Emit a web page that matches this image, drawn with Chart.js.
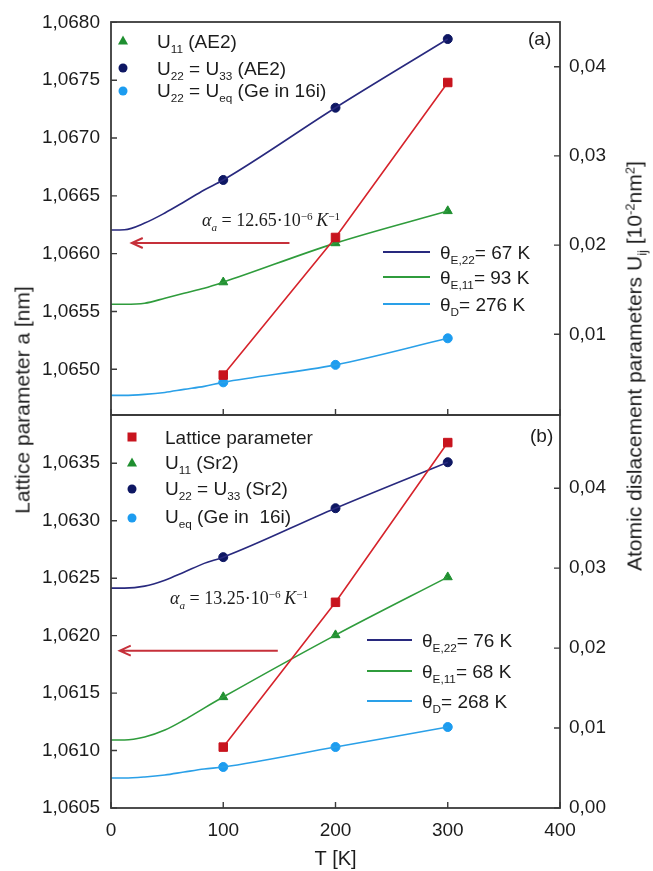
<!DOCTYPE html>
<html>
<head>
<meta charset="utf-8">
<script src="https://cdn.jsdelivr.net/npm/chart.js"></script>
<style>
html,body{margin:0;padding:0;background:#fff;}
#wrap{position:relative;width:653px;height:871px;overflow:hidden;background:#fff;font-family:"Liberation Sans",Arial,sans-serif;color:#1c1c1c;}
canvas{position:absolute;left:0;}
#ca{top:0;}
#cb{top:395px;}
.t{position:absolute;white-space:nowrap;line-height:1;font-size:19px;transform:translateY(-50%);}
.t sub,.t sup,.ytitle sub,.ytitle sup{font-size:0.62em;position:relative;vertical-align:baseline;line-height:0;}
.t sub,.ytitle sub{top:0.42em;}
.t sup,.ytitle sup{top:-0.55em;}
.mk{position:absolute;transform:translate(-50%,-50%);}
.circ{width:9px;height:9px;border-radius:50%;}
.sq{width:9px;height:9px;}
.tri{width:0;height:0;border-left:5px solid transparent;border-right:5px solid transparent;border-bottom:9px solid #1f8f30;}
.ln{position:absolute;height:2px;transform:translateY(-50%);}
.ytitle{position:absolute;white-space:nowrap;font-size:21px;line-height:1;transform:translate(-50%,-50%) rotate(-90deg);}
.eq{font-family:"Liberation Serif","Times New Roman",serif;font-size:18px;}
</style>
</head>
<body>
<div id="wrap">
  <canvas id="ca" width="653" height="425"></canvas>
  <canvas id="cb" width="653" height="476"></canvas>
</div>
<script>
// ---------- data ----------
const T_PTS = [100, 200, 300];
const T_FIT = [0, 12, 30, 48, 65, 83, 100, 200, 300];
const X_TICKS = [0, 100, 200, 300, 400];

// panel (a)
const latticeA = [1.06495, 1.06614, 1.06748];
const u11A = [0.01584, 0.02022, 0.02382];
const u22A = [0.0273, 0.0354, 0.0431];
const ueqA = [0.00461, 0.00657, 0.00955];
const fitE22A = [0.02169, 0.02172, 0.02247, 0.02360, 0.02483, 0.02618, 0.0273, 0.0354, 0.0431];
const fitE11A = [0.01337, 0.01337, 0.01348, 0.01404, 0.01461, 0.01517, 0.01584, 0.02022, 0.02382];
const fitDA = [0.00315, 0.00315, 0.00326, 0.00348, 0.00382, 0.00416, 0.00461, 0.00657, 0.00955];
const leftTicksA = [1.0650, 1.0655, 1.0660, 1.0665, 1.0670, 1.0675, 1.0680];
const rightTicksA = [0.01, 0.02, 0.03, 0.04];
const leftRangeA = [1.064605, 1.068003];
const rightRangeA = [0.00095, 0.04501];

// panel (b)
const latticeB = [1.06103, 1.06229, 1.06368];
const u11B = [0.01388, 0.02163, 0.02888];
const u22B = [0.03138, 0.0375, 0.04325];
const ueqB = [0.00513, 0.00763, 0.01013];
const fitE22B = [0.0275, 0.0275, 0.02775, 0.0285, 0.0295, 0.0306, 0.03138, 0.0375, 0.04325];
const fitE11B = [0.0085, 0.0085, 0.00888, 0.00975, 0.011, 0.0125, 0.01388, 0.02163, 0.02888];
const fitDB = [0.00375, 0.00375, 0.00388, 0.00413, 0.0045, 0.00488, 0.00513, 0.00763, 0.01013];
const leftTicksB = [1.0605, 1.0610, 1.0615, 1.0620, 1.0625, 1.0630, 1.0635];
const rightTicksB = [0.00, 0.01, 0.02, 0.03, 0.04];
const leftRangeB = [1.0605, 1.06392];
const rightRangeB = [0.0, 0.04916];

// texts
const X_TITLE = 'T [K]';
const Y_LEFT_TITLE = 'Lattice parameter a [nm]';
const Y_RIGHT_TITLE = 'Atomic dislacement parameters U<sub>ij</sub> [10<sup>-2</sup>nm<sup>2</sup>]';
const legendA = ['U<sub>11</sub> (AE2)', 'U<sub>22</sub> = U<sub>33</sub> (AE2)', 'U<sub>22</sub> = U<sub>eq</sub> (Ge in 16i)'];
const legendB = ['Lattice parameter', 'U<sub>11</sub> (Sr2)', 'U<sub>22</sub> = U<sub>33</sub> (Sr2)', 'U<sub>eq</sub> (Ge in &nbsp;16i)'];
const fitLegendA = ['θ<sub>E,22</sub>= 67 K', 'θ<sub>E,11</sub>= 93 K', 'θ<sub>D</sub>= 276 K'];
const fitLegendB = ['θ<sub>E,22</sub>= 76 K', 'θ<sub>E,11</sub>= 68 K', 'θ<sub>D</sub>= 268 K'];
const alphaA = '<i>α</i><sub><i>a</i></sub> = 12.65·10<sup>−6</sup>&#8201;<i>K</i><sup>−1</sup>';
const alphaB = '<i>α</i><sub><i>a</i></sub> = 13.25·10<sup>−6</sup>&#8201;<i>K</i><sup>−1</sup>';

// ---------- styling ----------
const FONT = '"Liberation Sans", Arial, sans-serif';
const C = {red:'#d6232b', redM:'#c8141e', green:'#2f9c3c', greenM:'#1f8f30', navy:'#28297e', navyM:'#0e1763',
           blue:'#2aa0e8', blueM:'#1c9cf0', arrow:'#c6303a', axis:'#3a3a3a', text:'#1c1c1c'};

function pts(xs, ys){ return xs.map((x,i)=>({x:x, y:ys[i]})); }

function makeDatasets(d){
  const fit = (data, col) => ({data: pts(T_FIT, data), yAxisID:'yR', borderColor: col, borderWidth:1.6,
    pointRadius:0, cubicInterpolationMode:'monotone', fill:false});
  const mark = (data, col, style, r) => ({data: pts(T_PTS, data), yAxisID:'yR', showLine:false,
    pointStyle: style, pointRadius:r, backgroundColor: col, borderColor: col, pointBorderWidth:1});
  return [
    {data: pts(T_PTS, d.lattice), yAxisID:'yL', borderColor:C.red, borderWidth:1.6, backgroundColor:C.redM,
     pointBackgroundColor:C.redM, pointBorderColor:C.redM, pointStyle:'rect', pointRadius:6, pointBorderWidth:1, tension:0},
    fit(d.fE22, C.navy), fit(d.fE11, C.green), fit(d.fD, C.blue),
    mark(d.u11, C.greenM, 'triangle', 5.2),
    mark(d.u22, C.navyM, 'circle', 4.5),
    mark(d.ueq, C.blueM, 'circle', 4.5)
  ];
}

const framePlugin = {
  id:'frame',
  afterDatasetsDraw(chart, args, o){
    const {ctx, chartArea:a, scales:s} = chart;
    ctx.save();
    ctx.strokeStyle = C.axis; ctx.lineWidth = 1.8;
    ctx.strokeRect(a.left, a.top, a.right-a.left, a.bottom-a.top);
    ctx.lineWidth = 1.4;
    ctx.beginPath();
    o.lTicks.forEach(v => { const y = s.yL.getPixelForValue(v); ctx.moveTo(a.left, y); ctx.lineTo(a.left+6, y); });
    o.rTicks.forEach(v => { const y = s.yR.getPixelForValue(v); ctx.moveTo(a.right, y); ctx.lineTo(a.right-6, y); });
    X_TICKS.forEach(v => { const x = s.x.getPixelForValue(v); ctx.moveTo(x, a.bottom); ctx.lineTo(x, a.bottom-6); });
    ctx.stroke();
    const ar = o.arrow;
    const x0 = s.x.getPixelForValue(ar.from), x1 = s.x.getPixelForValue(ar.to), y = s.yL.getPixelForValue(ar.y);
    ctx.strokeStyle = C.arrow; ctx.lineWidth = 2;
    ctx.beginPath();
    ctx.moveTo(x0, y); ctx.lineTo(x1, y);
    ctx.moveTo(x1+11, y-5); ctx.lineTo(x1, y); ctx.lineTo(x1+11, y+5);
    ctx.stroke();
    ctx.restore();
  }
};

function makeChart(id, d, isB){
  const tickFont = {family: FONT, size: 19};
  const yFit = w => s => { s.width = w; s.paddingTop = 0; s.paddingBottom = 0; };
  return new Chart(document.getElementById(id), {
    type:'line',
    data:{datasets: makeDatasets(d)},
    plugins:[framePlugin],
    options:{
      responsive:false, animation:false, devicePixelRatio:1,
      layout:{padding: isB ? {top:20, bottom:0, left:0, right:0} : {top:22, bottom:10, left:0, right:0}},
      plugins:{legend:{display:false}, tooltip:{enabled:false},
        frame:{lTicks:d.lTicks, rTicks:d.rTicks, arrow:d.arrow}},
      scales:{
        x:{type:'linear', min:0, max:400, display:isB,
           afterBuildTicks: s => { s.ticks = X_TICKS.map(v => ({value:v})); },
           afterFit: s => { s.height = isB ? 63 : 0; s.paddingLeft = 0; s.paddingRight = 0; },
           grid:{display:false, drawTicks:false}, border:{display:false},
           ticks:{padding:11, font:tickFont, color:C.text, maxRotation:0, callback: v => String(v)},
           title:{display:true, text:X_TITLE, font:{family:FONT, size:20}, color:C.text, padding:{top:0, bottom:0}}},
        yL:{type:'linear', position:'left', min:d.lRange[0], max:d.lRange[1],
           afterBuildTicks: s => { s.ticks = d.lTicks.map(v => ({value:v})); },
           afterFit: yFit(111),
           grid:{display:false, drawTicks:false}, border:{display:false},
           ticks:{padding:11, font:tickFont, color:C.text, callback: v => v.toFixed(4).replace('.', ',')}},
        yR:{type:'linear', position:'right', min:d.rRange[0], max:d.rRange[1],
           afterBuildTicks: s => { s.ticks = d.rTicks.map(v => ({value:v})); },
           afterFit: yFit(93),
           grid:{display:false, drawTicks:false}, border:{display:false},
           ticks:{padding:9, font:tickFont, color:C.text, callback: v => v.toFixed(2).replace('.', ',')}}
      }
    }
  });
}

makeChart('ca', {lattice:latticeA, u11:u11A, u22:u22A, ueq:ueqA, fE22:fitE22A, fE11:fitE11A, fD:fitDA,
  lTicks:leftTicksA, rTicks:rightTicksA, lRange:leftRangeA, rRange:rightRangeA,
  arrow:{from:159, to:18.5, y:1.066092}}, false);
makeChart('cb', {lattice:latticeB, u11:u11B, u22:u22B, ueq:ueqB, fE22:fitE22B, fE11:fitE11B, fD:fitDB,
  lTicks:leftTicksB, rTicks:rightTicksB, lRange:leftRangeB, rRange:rightRangeB,
  arrow:{from:148.6, to:7.8, y:1.061869}}, true);

// ---------- text overlays ----------
const wrap = document.getElementById('wrap');
function add(cls, html, style){
  const el = document.createElement('div');
  el.className = cls; el.innerHTML = html;
  Object.assign(el.style, style);
  wrap.appendChild(el);
  return el;
}
function marker(kind, color, x, y){
  const el = add('mk ' + kind, '', {left:x+'px', top:y+'px'});
  if (kind === 'tri') el.style.borderBottomColor = color; else el.style.background = color;
}

add('ytitle', Y_LEFT_TITLE, {left:'22px', top:'400px'});
add('ytitle', Y_RIGHT_TITLE, {left:'634px', top:'366px'});

// legend (a)
const legAy = [41, 68, 90];
marker('tri', C.greenM, 123, 40);
marker('circ', C.navyM, 123, 68);
marker('circ', C.blueM, 123, 91);
legendA.forEach((h,i) => add('t', h, {left:'157px', top:legAy[i]+'px'}));

// legend (b)
const legBy = [437, 462, 488, 516];
marker('sq', C.redM, 132, 437);
marker('tri', C.greenM, 132, 462);
marker('circ', C.navyM, 132, 489);
marker('circ', C.blueM, 132, 518);
legendB.forEach((h,i) => add('t', h, {left:'165px', top:legBy[i]+'px'}));

// fit legends
const fitCols = [C.navy, C.green, C.blue];
const fitAy = [252, 277, 304];
fitLegendA.forEach((h,i) => {
  add('ln', '', {left:'383px', width:'47px', top:fitAy[i]+'px', background:fitCols[i]});
  add('t', h, {left:'440px', top:fitAy[i]+'px'});
});
const fitBy = [640, 671, 701];
fitLegendB.forEach((h,i) => {
  add('ln', '', {left:'367px', width:'45px', top:fitBy[i]+'px', background:fitCols[i]});
  add('t', h, {left:'422px', top:fitBy[i]+'px'});
});

add('t', '(a)', {left:'528px', top:'38px'});
add('t', '(b)', {left:'530px', top:'435px'});
add('t eq', alphaA, {left:'202px', top:'220px'});
add('t eq', alphaB, {left:'170px', top:'598px'});
</script>
</body>
</html>
